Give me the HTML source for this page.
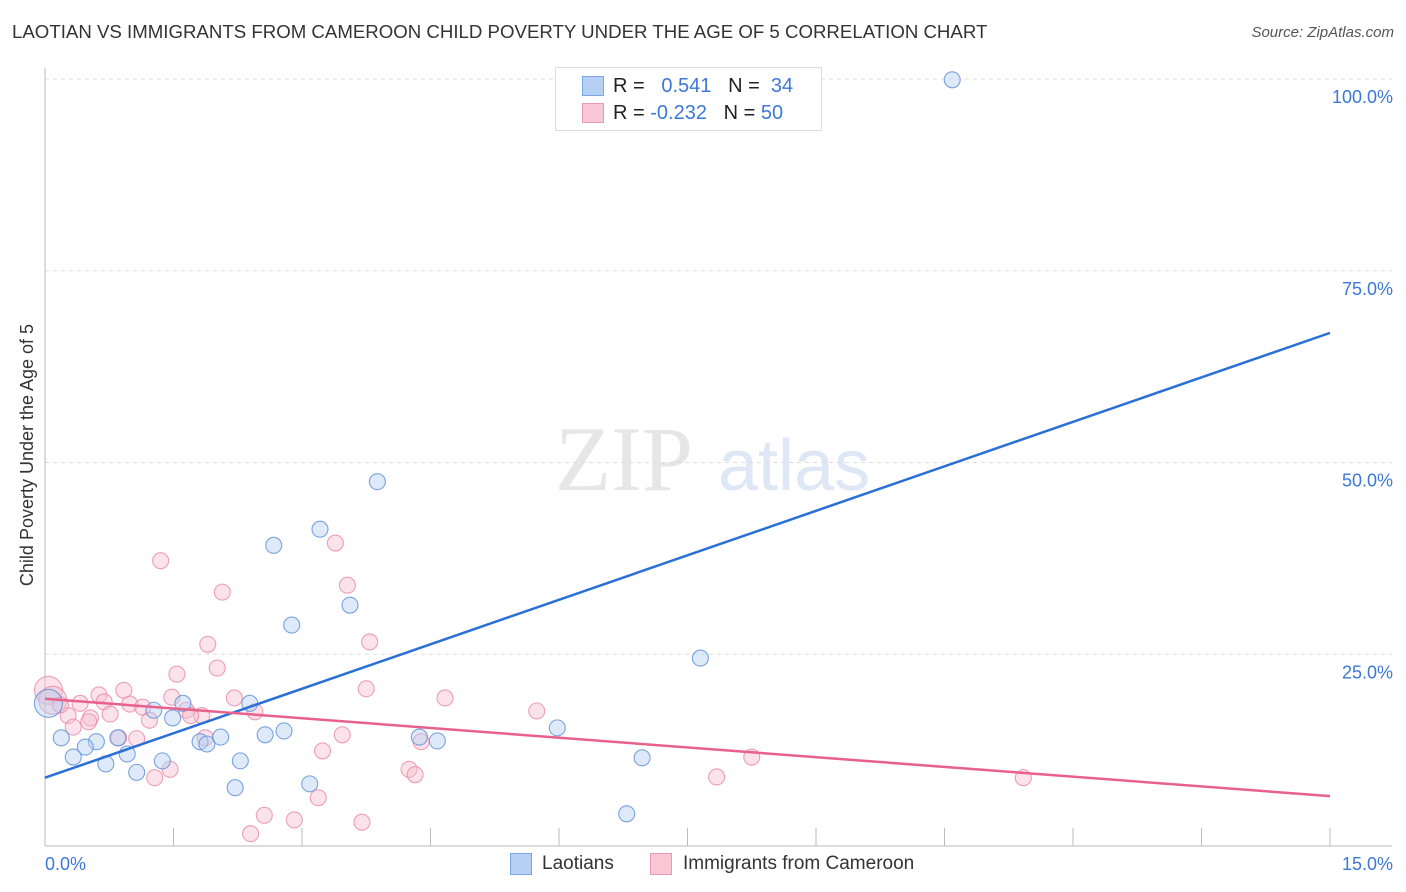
<!DOCTYPE html>
<html><head><meta charset="utf-8"><style>
body{margin:0;background:#fff;font-family:"Liberation Sans",sans-serif;}
#wrap{position:relative;width:1406px;height:892px;overflow:hidden;}
.t{position:absolute;white-space:nowrap;}
</style></head><body>
<div id="wrap">
<div class="t" style="left:12px;top:22px;font-size:18px;transform:scaleX(1.036);transform-origin:left;color:#333;">LAOTIAN VS IMMIGRANTS FROM CAMEROON CHILD POVERTY UNDER THE AGE OF 5 CORRELATION CHART</div>
<div class="t" style="right:12px;top:24px;font-size:15px;color:#555;font-style:italic;">Source: ZipAtlas.com</div>
<svg id="svg" width="1406" height="892" style="position:absolute;left:0;top:0"></svg>
</div>
<script>
const xTickLabels=["0.0%","15.0%"];
const yTicks=[25,50,75,100];
const yTickLabels=["25.0%","50.0%","75.0%","100.0%"];
const laoX=[10.59,3.88,3.21,2.67,3.56,2.88,7.65,0.04,1.27,1.61,2.39,1.49,5.98,2.79,2.57,0.19,0.85,2.05,4.37,0.60,1.81,1.89,4.58,0.47,0.33,0.96,6.97,1.37,2.28,0.71,1.07,3.09,2.22,6.79];
const laoY=[99.9,47.5,41.3,39.2,31.4,28.8,24.5,18.6,17.7,18.6,18.6,16.7,15.4,15.0,14.5,14.1,14.1,14.2,14.2,13.6,13.6,13.3,13.7,12.9,11.6,12.0,11.5,11.1,11.1,10.7,9.6,8.1,7.6,4.2];
const camX=[0.04,0.09,1.35,3.39,2.07,3.53,1.90,3.79,1.54,2.01,0.92,3.75,4.67,0.63,1.48,2.21,0.41,0.69,0.99,1.14,1.65,1.83,5.74,2.45,0.27,0.53,0.76,1.22,1.70,0.33,0.51,1.87,0.86,1.07,3.47,4.39,3.24,8.25,1.46,1.28,4.25,4.32,7.84,11.42,3.19,2.56,2.91,3.70,2.40,0.18];
const camY=[20.3,19.0,37.2,39.5,33.1,34.0,26.3,26.6,22.4,23.2,20.3,20.5,19.3,19.7,19.4,19.3,18.6,18.8,18.5,18.1,17.7,17.0,17.6,17.5,17.0,16.7,17.2,16.4,17.0,15.5,16.2,14.1,14.1,14.0,14.5,13.6,12.4,11.6,10.0,8.9,10.0,9.3,9.0,8.9,6.3,4.0,3.4,3.1,1.6,18.4];
const laoTrend=[8.9,66.9];
const camTrend=[19.2,6.5];
const X0=45,X1=1330,Y0=846,Y100=79;
const sx=v=>X0+(v/15)*(X1-X0);
const sy=v=>Y0-(v/100)*(Y0-Y100);
const svg=document.getElementById('svg');
const NS="http://www.w3.org/2000/svg";
function mk(tag,attrs,parent){const e=document.createElementNS(NS,tag);for(const k in attrs)e.setAttribute(k,attrs[k]);(parent||svg).appendChild(e);return e;}
let wm=mk('text',{x:555,y:490,'font-size':92,fill:'#e6e6e6','font-family':'Liberation Serif, serif'});wm.textContent='ZIP';


let wm2=mk('text',{x:718,y:490,'font-size':72,fill:'#dde7f5','font-family':'Liberation Sans, sans-serif'});wm2.textContent='atlas';


yTicks.forEach((t,i)=>{
 const g=mk('line',{x1:X0,x2:1392,y1:sy(t),y2:sy(t),stroke:'#dddddd','stroke-dasharray':'4,4'});
 
 
 const l=mk('text',{x:1393,y:sy(t)+24,'text-anchor':'end','font-size':18,fill:'#3b78d8'});l.textContent=yTickLabels[i];
 
 
});
let ya=mk('line',{x1:X0,x2:X0,y1:68,y2:Y0,stroke:'#bbb'});


let xa=mk('line',{x1:X0,x2:1392,y1:Y0,y2:Y0,stroke:'#bbb'});


for(let i=1;i<=10;i++){const x=sx(i*1.5);const tk=mk('line',{x1:x,x2:x,y1:Y0-18,y2:Y0,stroke:'#bbb'});
 
 }
let xl0=mk('text',{x:45,y:870,'font-size':18,fill:'#3b78d8'});xl0.textContent=xTickLabels[0];


let xl1=mk('text',{x:1393,y:870,'font-size':18,fill:'#3b78d8','text-anchor':'end'});xl1.textContent=xTickLabels[1];


let yt=mk('text',{x:33,y:455,'font-size':18,fill:'#333','text-anchor':'middle',transform:'rotate(-90 33 455)'});yt.textContent='Child Poverty Under the Age of 5';


function pts(xs,ys,fill,stroke,name){xs.forEach((v,i)=>{const r=(v<0.1)?14:8;
 const c=mk('circle',{cx:sx(v),cy:sy(ys[i]),r:r,fill:fill,'fill-opacity':0.45,stroke:stroke,'stroke-opacity':0.8,'stroke-width':1.1});
 
 });}
pts(camX,camY,'#f8bfd0','#e98aa8','point-cameroon');
pts(laoX,laoY,'#b5d0f2','#5b8fd8','point-laotian');
let tl=mk('line',{x1:sx(0),y1:sy(laoTrend[0]),x2:sx(15),y2:sy(laoTrend[1]),stroke:'#2a6fd6','stroke-width':2.5});


let tc=mk('line',{x1:sx(0),y1:sy(camTrend[0]),x2:sx(15),y2:sy(camTrend[1]),stroke:'#e8608c','stroke-width':2.5});


</script>
<div class="t" style="left:555px;top:67px;width:265px;height:62px;border:1px solid #ddd;background:#fff;">
 <div class="t" style="left:26px;top:8px;width:20px;height:18px;background:#b5d0f2;border:1px solid #7aa7e6;"></div>
 <div class="t" style="left:57px;top:7px;font-size:20px;color:#222;">R = &nbsp;&nbsp;<span style="color:#3b78d8">0.541</span>&nbsp;&nbsp;&nbsp;N = &nbsp;<span style="color:#3b78d8">34</span></div>
 <div class="t" style="left:26px;top:35px;width:20px;height:18px;background:#f8c6d5;border:1px solid #eb9ab4;"></div>
 <div class="t" style="left:57px;top:34px;font-size:20px;color:#222;">R = <span style="color:#3b78d8">-0.232</span>&nbsp;&nbsp;&nbsp;N = <span style="color:#3b78d8">50</span></div>
</div>
<div class="t" style="left:510px;top:853px;width:20px;height:20px;background:#b5d0f2;border:1px solid #7aa7e6;"></div>
<div class="t" style="left:542px;top:853px;font-size:19px;color:#333;">Laotians</div>
<div class="t" style="left:650px;top:853px;width:20px;height:20px;background:#f8c6d5;border:1px solid #eb9ab4;"></div>
<div class="t" style="left:683px;top:853px;font-size:19px;color:#333;">Immigrants from Cameroon</div>
</body></html>
